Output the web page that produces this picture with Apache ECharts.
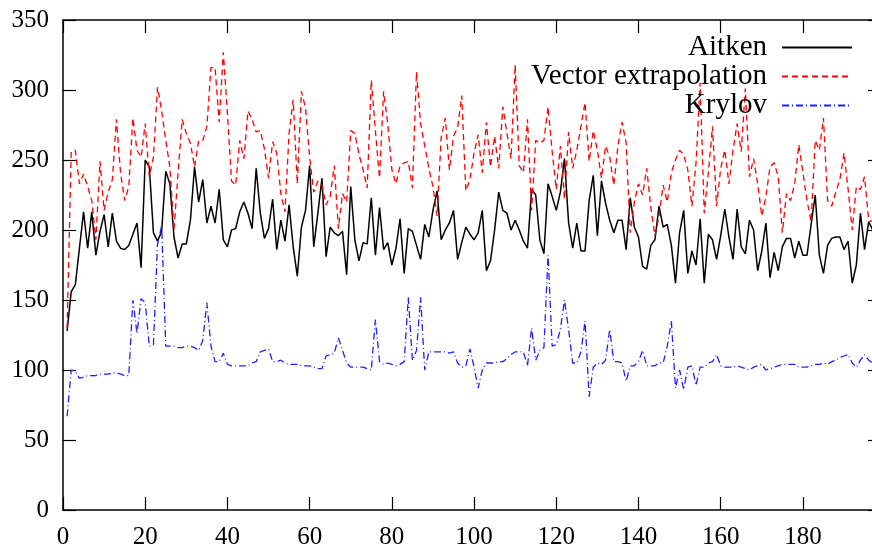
<!DOCTYPE html>
<html>
<head>
<meta charset="utf-8">
<script src="https://cdn.jsdelivr.net/npm/echarts@6/dist/echarts.min.js"></script>
<style>
  html, body { margin: 0; padding: 0; overflow: hidden; background: #fff; }
  #chart { width: 890px; height: 554px; }
</style>
</head>
<body>
<div id="chart"></div>
<script>
  // iterations start at 1
  var firstIter = 1

  var aitken = [
    128, 156, 161, 187, 213, 187, 213, 182, 199, 211,
    188, 212, 192, 187, 186, 189, 197, 205, 173, 250,
    245, 198, 192, 199, 242, 233, 195, 180, 190, 190,
    207, 245, 220, 236, 205, 217, 205, 229, 193, 188,
    200, 201, 213, 220, 212, 201, 244, 212, 194, 201,
    222, 186, 207, 192, 218, 188, 167, 202, 214, 246,
    188, 212, 237, 181, 202, 198, 196, 199, 168, 231,
    193, 178, 191, 190, 223, 182, 216, 186, 191, 175,
    187, 208, 169, 201, 199, 189, 179, 204, 195, 214,
    228, 193, 200, 205, 214, 179, 191, 202, 197, 193,
    198, 214, 171, 178, 200, 227, 214, 212, 200, 207,
    200, 192, 187, 229, 225, 193, 183, 233, 224, 214,
    227, 251, 205, 187, 205, 185, 185, 221, 239, 196,
    235, 219, 207, 198, 207, 207, 186, 223, 202, 195,
    174, 172, 189, 193, 217, 202, 204, 189, 162, 198,
    214, 169, 185, 175, 208, 162, 197, 193, 179, 196,
    215, 195, 179, 215, 188, 183, 207, 200, 171, 185,
    205, 166, 184, 171, 188, 194, 194, 180, 192, 182,
    182, 204, 225, 182, 169, 189, 194, 195, 195, 186,
    192, 162, 175, 212, 186, 206, 200
  ]

  var vectorExtrap = [
    130, 256, 257, 233, 240, 231, 221, 193, 249, 214,
    227, 236, 279, 241, 221, 231, 280, 257, 252, 276,
    238, 252, 302, 285, 264, 245, 200, 241, 279, 269,
    262, 245, 264, 264, 274, 316, 316, 277, 327, 283,
    235, 232, 264, 251, 285, 279, 270, 271, 258, 237,
    263, 255, 226, 213, 269, 293, 233, 299, 287, 252,
    227, 235, 232, 218, 224, 246, 201, 226, 220, 271,
    269, 254, 243, 230, 307, 271, 237, 299, 276, 243,
    233, 246, 248, 249, 230, 313, 276, 260, 244, 231,
    210, 266, 280, 243, 267, 273, 296, 228, 236, 255,
    268, 241, 277, 245, 267, 244, 288, 269, 251, 318,
    246, 241, 279, 214, 264, 262, 264, 288, 256, 229,
    260, 222, 270, 244, 257, 274, 291, 249, 271, 257,
    237, 260, 252, 232, 260, 277, 262, 198, 220, 233,
    225, 244, 216, 196, 210, 232, 220, 241, 250, 257,
    254, 243, 217, 248, 305, 212, 241, 274, 217, 244,
    257, 233, 257, 276, 256, 301, 238, 251, 233, 210,
    224, 245, 248, 238, 198, 226, 221, 233, 261, 241,
    221, 206, 264, 257, 280, 221, 217, 227, 236, 255,
    229, 200, 231, 229, 238, 207, 206
  ]

  var krylov = [
    67, 100, 99, 94, 95, 96, 96, 96, 97, 97,
    97, 98, 98, 97, 96, 96, 150, 126, 151, 148,
    117, 118, 190, 203, 117, 117, 117, 116, 116, 117,
    117, 116, 114, 121, 148, 117, 106, 106, 112, 104,
    103, 103, 103, 103, 103, 105, 106, 113, 114, 115,
    106, 106, 107, 105, 104, 104, 104, 103, 103, 103,
    102, 101, 101, 110, 111, 112, 123, 114, 105, 102,
    102, 102, 102, 101, 100, 136, 106, 104, 105, 104,
    103, 104, 106, 152, 107, 114, 152, 100, 113, 113,
    113, 113, 113, 112, 113, 105, 102, 103, 115, 102,
    87, 100, 105, 105, 105, 106, 106, 108, 111, 113,
    113, 113, 103, 130, 107, 114, 116, 182, 117, 118,
    129, 150, 129, 105, 105, 113, 135, 81, 102, 105,
    104, 107, 129, 106, 106, 105, 92, 103, 103, 106,
    114, 103, 103, 103, 105, 105, 117, 135, 87, 100,
    86, 102, 103, 89, 102, 102, 105, 106, 111, 103,
    102, 102, 102, 103, 102, 101, 100, 102, 103, 104,
    100, 101, 102, 103, 104, 104, 104, 104, 102, 102,
    102, 103, 104, 104, 105, 104, 106, 107, 109, 110,
    111, 105, 102, 107, 111, 107, 105
  ]

  var seriesNames = ['Aitken', 'Vector extrapolation', 'Krylov']
  var xTicks = { min: 0, max: 199, interval: 20 }
  var yTicks = { min: 0, max: 350, interval: 50 }

  function toPairs(arr) {
    return arr.map(function (v, i) { return [firstIter + i, v] })
  }

  var fontFam = '"Liberation Serif", "DejaVu Serif", serif'

  function legendFor(name, top) {
    return {
      data: [name],
      right: 37,
      top: top,
      padding: 0,
      align: 'right',
      itemWidth: 70,
      itemHeight: 14,
      itemStyle: { opacity: 0 },
      textStyle: { fontFamily: fontFam, fontSize: 29, color: '#000', padding: [0, 10, 0, 0] }
    }
  }

  function axisCommon(pos, showLabel, ticks) {
    return {
      type: 'value',
      position: pos,
      min: ticks.min,
      max: ticks.max,
      interval: ticks.interval,
      splitLine: { show: false },
      axisLine: { show: true, onZero: false, lineStyle: { color: '#000', width: 1.5 } },
      axisTick: { show: true, inside: true, length: 13, lineStyle: { color: '#000', width: 1.2 } },
      axisLabel: {
        show: showLabel,
        showMaxLabel: ticks === yTicks,
        color: '#000',
        fontFamily: fontFam,
        fontSize: 25,
        margin: pos === 'left' ? 14 : 15
      }
    }
  }

  var chart = echarts.init(document.getElementById('chart'), null, { renderer: 'canvas' })
  chart.setOption({
    animation: false,
    backgroundColor: '#fff',
    grid: { left: 63, right: 9, top: 20, bottom: 44, containLabel: false },
    legend: [
      legendFor(seriesNames[0], 33),
      legendFor(seriesNames[1], 62),
      legendFor(seriesNames[2], 91)
    ],
    xAxis: [
      axisCommon('bottom', true, xTicks),
      axisCommon('top', false, xTicks)
    ],
    yAxis: [
      axisCommon('left', true, yTicks),
      axisCommon('right', false, yTicks)
    ],
    series: [
      {
        name: seriesNames[0],
        type: 'line',
        data: toPairs(aitken),
        symbol: 'none',
        lineStyle: { color: '#000', width: 1.5 },
        itemStyle: { color: '#000' }
      },
      {
        name: seriesNames[1],
        type: 'line',
        data: toPairs(vectorExtrap),
        symbol: 'none',
        lineStyle: { color: '#ff0000', width: 1.3, type: [6, 4] },
        itemStyle: { color: '#ff0000' }
      },
      {
        name: seriesNames[2],
        type: 'line',
        data: toPairs(krylov),
        symbol: 'none',
        lineStyle: { color: '#2020ff', width: 1.3, type: [7, 3, 1, 3] },
        itemStyle: { color: '#2020ff' }
      }
    ]
  })
</script>
</body>
</html>
